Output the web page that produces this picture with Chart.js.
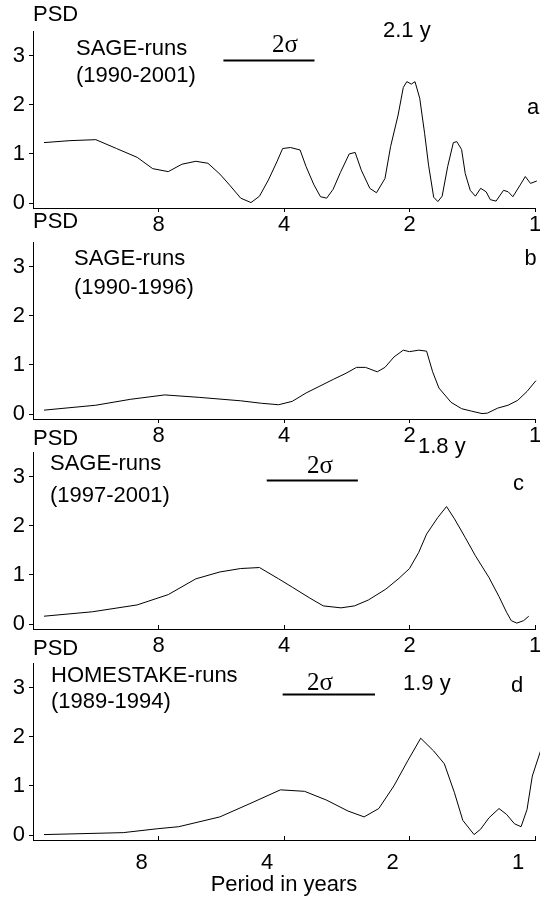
<!DOCTYPE html>
<html>
<head>
<meta charset="utf-8">
<title>PSD of solar neutrino runs</title>
<script src="https://cdn.jsdelivr.net/npm/chart.js@4.4.1/dist/chart.umd.min.js"></script>
<style>
    body {
        margin: 0;
        background: #fff;
        width: 540px;
        height: 901px;
        overflow: hidden;
        position: relative;
    }
    .panel {
        position: absolute;
        left: 0;
    }
</style>
</head>
<body>

<div class="panel" style="top:0px"><canvas id="panelA" width="540" height="236"></canvas></div>
<div class="panel" style="top:211px"><canvas id="panelB" width="540" height="236"></canvas></div>
<div class="panel" style="top:421px"><canvas id="panelC" width="540" height="236"></canvas></div>
<div class="panel" style="top:632px"><canvas id="panelD" width="540" height="269"></canvas></div>

<script>
// axis ticks (period in years, PSD)
const periodTicks = [1, 2, 4, 8];
const psdTicks = [0, 1, 2, 3];

// a: SAGE-runs 1990-2001
const periodsA = [15.06, 13.05, 11.31, 10.09, 9.00, 8.26, 7.58, 7.03, 6.51, 6.09,
    5.70, 5.38, 5.08, 4.80, 4.58, 4.36, 4.16, 4.03, 3.86, 3.66,
    3.54, 3.39, 3.27, 3.16, 3.05, 2.93, 2.79, 2.70, 2.61, 2.49,
    2.40, 2.29, 2.22, 2.13, 2.07, 2.03, 1.98, 1.94, 1.89, 1.84,
    1.80, 1.75, 1.71, 1.67, 1.62, 1.57, 1.54, 1.50, 1.47, 1.43,
    1.39, 1.35, 1.31, 1.28, 1.24, 1.19, 1.16, 1.13, 1.085, 1.055,
    1.025, 0.99];
const psdA = [1.23, 1.27, 1.29, 1.11, 0.93, 0.70, 0.64, 0.79, 0.85, 0.81,
    0.59, 0.35, 0.10, 0.01, 0.14, 0.47, 0.84, 1.11, 1.13, 1.08,
    0.74, 0.37, 0.13, 0.10, 0.28, 0.62, 1.00, 1.03, 0.67, 0.30,
    0.21, 0.50, 1.15, 1.79, 2.35, 2.47, 2.42, 2.47, 2.13, 1.42,
    0.77, 0.12, 0.03, 0.14, 0.74, 1.23, 1.25, 1.09, 0.60, 0.26,
    0.14, 0.30, 0.23, 0.07, 0.04, 0.26, 0.23, 0.13, 0.37, 0.54,
    0.40, 0.45];
const sigmaA = [5.59, 3.38];
const sigmaLevelA = 2.9;

// b: SAGE-runs 1990-1996
const periodsB = [15.06, 11.31, 9.35, 7.73, 6.39, 5.08, 4.53, 4.12, 3.82, 3.54,
    3.28, 3.04, 2.84, 2.68, 2.55, 2.39, 2.29, 2.18, 2.07, 2.00,
    1.90, 1.82, 1.76, 1.70, 1.59, 1.50, 1.42, 1.34, 1.30, 1.23,
    1.16, 1.10, 1.045, 0.995];
const psdB = [0.08, 0.18, 0.30, 0.39, 0.34, 0.27, 0.22, 0.19, 0.26, 0.43,
    0.57, 0.71, 0.83, 0.95, 0.95, 0.86, 0.95, 1.16, 1.30, 1.27,
    1.30, 1.28, 0.86, 0.53, 0.24, 0.11, 0.06, 0.01, 0.02, 0.12,
    0.18, 0.28, 0.46, 0.68];

// c: SAGE-runs 1997-2001
const periodsC = [15.06, 11.53, 9.00, 7.58, 6.51, 5.70, 5.08, 4.58, 4.12, 3.82,
    3.47, 3.22, 2.92, 2.71, 2.51, 2.28, 2.12, 2.00, 1.90, 1.82,
    1.71, 1.63, 1.56, 1.47, 1.39, 1.29, 1.22, 1.17, 1.14, 1.106,
    1.065, 1.035];
const psdC = [0.16, 0.25, 0.39, 0.60, 0.92, 1.06, 1.13, 1.15, 0.92, 0.75,
    0.53, 0.37, 0.33, 0.37, 0.49, 0.71, 0.93, 1.13, 1.46, 1.83,
    2.17, 2.39, 2.14, 1.76, 1.39, 0.95, 0.56, 0.24, 0.07, 0.02,
    0.07, 0.16];
const sigmaC = [4.40, 2.66];
const sigmaLevelC = 2.92;

// d: HOMESTAKE-runs 1989-1994
const periodsD = [15.06, 9.72, 8.03, 7.16, 5.70, 4.80, 4.08, 3.57, 3.16, 2.81,
    2.57, 2.37, 2.18, 2.02, 1.88, 1.75, 1.65, 1.56, 1.49, 1.40,
    1.35, 1.29, 1.22, 1.17, 1.12, 1.08, 1.045, 1.015, 0.97];
const psdD = [0.01, 0.05, 0.13, 0.17, 0.37, 0.65, 0.92, 0.89, 0.71, 0.49,
    0.37, 0.54, 1.00, 1.51, 1.97, 1.71, 1.45, 0.86, 0.30, 0.01,
    0.12, 0.35, 0.54, 0.42, 0.23, 0.17, 0.52, 1.20, 1.71];
const sigmaD = [4.03, 2.42];
const sigmaLevelD = 2.86;


const SANS = '"Liberation Sans", Arial, sans-serif';
const SERIF = '"Liberation Serif", "Times New Roman", serif';
const MONO = '"Liberation Mono", "Courier New", monospace';


function textPlugin(items) {

    return {
        id: 'panelText',
        afterDraw(chart) {
            const ctx = chart.ctx;
            ctx.save();
            ctx.fillStyle = '#000';
            ctx.textBaseline = 'alphabetic';
            ctx.textAlign = 'left';
            items.forEach(t => {
                ctx.font = t.font || ('22px ' + SANS);
                ctx.fillText(t.text, t.x, t.y);
            });
            ctx.restore();
        }
    };

}

function makePanel(id, periods, psd, sigma, sigmaLevel, texts, axis) {

    const canvas = document.getElementById(id);

    const datasets = [
        {
            data: periods.map((p, i) => ({ x: p, y: psd[i] })),
            borderColor: '#000',
            borderWidth: 1,
            pointRadius: 0,
            tension: 0,
            clip: false,
        }
    ];

    if (sigma) {
        datasets.push({
            data: sigma.map(p => ({ x: p, y: sigmaLevel })),
            borderColor: '#000',
            borderWidth: 2,
            pointRadius: 0,
        });
    }

    return new Chart(canvas, {

        type: 'line',

        data: { datasets },

        options: {
            responsive: false,
            animation: false,
            events: [],
            layout: {
                padding: { top: 31, right: 5, left: 0, bottom: 0 }
            },
            plugins: {
                legend: { display: false },
                tooltip: { enabled: false },
            },
            scales: {
                x: {
                    type: 'logarithmic',
                    reverse: true,
                    min: 1,
                    max: 16,
                    afterBuildTicks(scale) {
                        scale.ticks = periodTicks.map(v => ({ value: v }));
                    },
                    afterFit(scale) {
                        scale.height = axis.height;
                    },
                    grid: {
                        drawOnChartArea: false,
                        tickLength: axis.tickLength,
                        color: '#000',
                    },
                    border: { display: true, color: '#000', width: 1 },
                    ticks: {
                        color: '#000',
                        font: { family: SANS, size: 22 },
                        padding: axis.padding,
                        labelOffset: axis.labelOffset || 0,
                        maxRotation: 0,
                        autoSkip: false,
                        callback: v => String(v),
                    },
                    title: axis.title ? {
                        display: true,
                        text: axis.title,
                        color: '#000',
                        font: { family: SANS, size: 22 },
                        padding: { top: 0, bottom: 3 },
                    } : { display: false },
                },
                y: {
                    min: -0.1,
                    max: 3.5,
                    afterBuildTicks(scale) {
                        scale.ticks = psdTicks.map(v => ({ value: v }));
                    },
                    afterFit(scale) {
                        scale.width = 33;
                    },
                    grid: {
                        drawOnChartArea: false,
                        tickLength: 4,
                        color: '#000',
                    },
                    border: { display: true, color: '#000', width: 1 },
                    ticks: {
                        color: '#000',
                        font: { family: SANS, size: 22 },
                        padding: 4,
                        callback: v => String(v),
                    },
                },
            },
        },

        plugins: [textPlugin(texts)],

    });

}


makePanel('panelA', periodsA, psdA, sigmaA, sigmaLevelA, [
    { text: 'PSD', x: 33, y: 21 },
    { text: 'SAGE-runs', x: 76, y: 55 },
    { text: '(1990-2001)', x: 76, y: 82 },
    { text: '2σ', x: 272, y: 52, font: '25px ' + SERIF },
    { text: '2.1 y', x: 383, y: 37 },
    { text: 'a', x: 527, y: 114 },
], { height: 28, tickLength: 4, padding: 0 });

makePanel('panelB', periodsB, psdB, null, null, [
    { text: 'PSD', x: 33, y: 17 },
    { text: 'SAGE-runs', x: 74, y: 54 },
    { text: '(1990-1996)', x: 74, y: 83 },
    { text: 'b', x: 524, y: 54, font: '22px ' + MONO },
], { height: 28, tickLength: 4, padding: 0 });

makePanel('panelC', periodsC, psdC, sigmaC, sigmaLevelC, [
    { text: 'PSD', x: 33, y: 24 },
    { text: 'SAGE-runs', x: 50, y: 49 },
    { text: '(1997-2001)', x: 50, y: 81 },
    { text: '2σ', x: 307, y: 52, font: '25px ' + SERIF },
    { text: '1.8 y', x: 418, y: 32 },
    { text: 'c', x: 513, y: 69 },
], { height: 28, tickLength: -4, padding: 8 });

makePanel('panelD', periodsD, psdD, sigmaD, sigmaLevelD, [
    { text: 'PSD', x: 33, y: 23 },
    { text: 'HOMESTAKE-runs', x: 51, y: 50 },
    { text: '(1989-1994)', x: 51, y: 76 },
    { text: '2σ', x: 307, y: 58, font: '25px ' + SERIF },
    { text: '1.9 y', x: 403, y: 58 },
    { text: 'd', x: 511, y: 60 },
], { height: 61, tickLength: -4, padding: 14, labelOffset: -17, title: 'Period in years' });
</script>

</body>
</html>
